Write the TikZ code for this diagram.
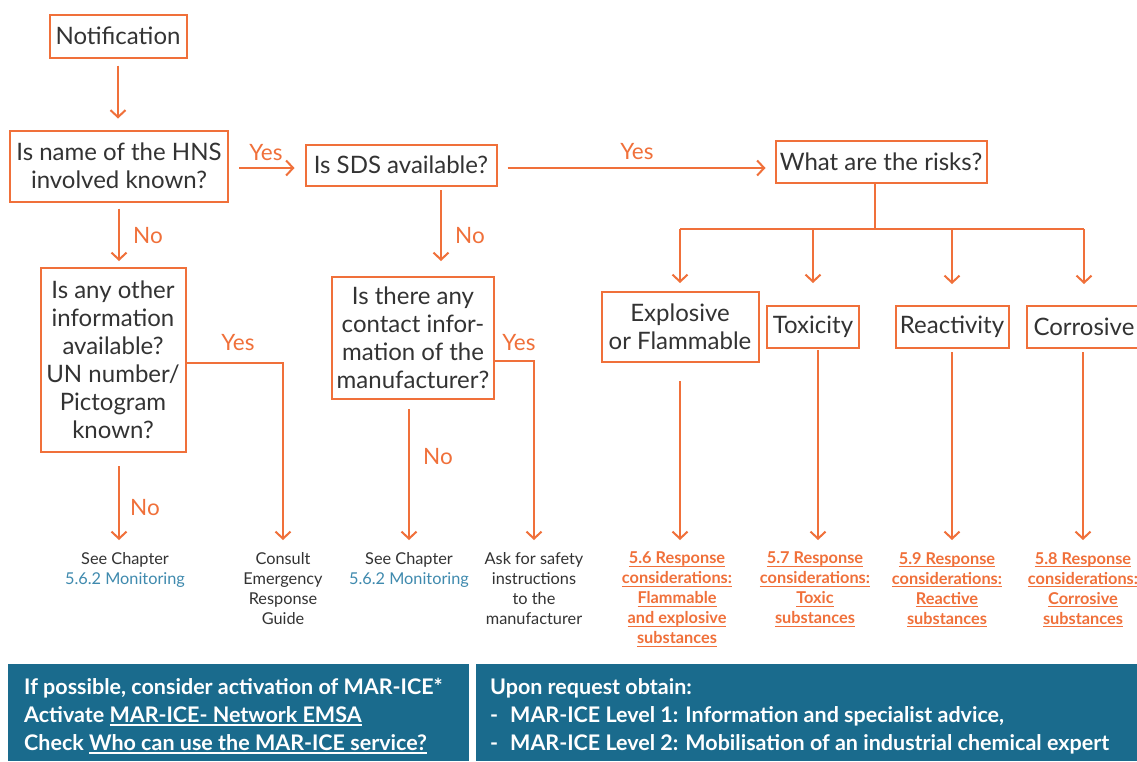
\documentclass[tikz,border=0pt]{standalone}
\usepackage{fontspec}
\setmainfont{Lato}
\usetikzlibrary{arrows.meta}
\definecolor{org}{HTML}{F0703A}
\definecolor{teal}{HTML}{1A6B8D}
\definecolor{lnk}{HTML}{3F8AAE}
\definecolor{txt}{HTML}{333333}
\newcommand\myul[1]{\leavevmode\setbox0\hbox{#1}\rlap{\rule[-3pt]{\wd0}{1.1pt}}\box0}
\begin{document}
\begin{tikzpicture}[x=1pt,y=-1pt,
  box/.style={draw=org,line width=2pt,inner sep=0pt,align=center,text=txt,
    font=\fontsize{24}{28}\selectfont},
  conn/.style={draw=org,line width=2pt,-{Straight Barb[length=7pt,width=15pt,line width=2pt]}},
  lbl/.style={text=org,font=\fontsize{22.5}{26}\selectfont,inner sep=0pt},
  small/.style={anchor=north,inner sep=0pt,align=center,text=txt,font=\fontsize{16.3}{20}\selectfont},
  refl/.style={anchor=north,inner sep=0pt,align=center,text=org,font=\bfseries\fontsize{16.3}{20}\selectfont},
  bar/.style={fill=teal,draw=none},
  bartext/.style={anchor=north west,inner sep=0pt,align=left,text=white,font=\bfseries\fontsize{21.5}{28}\selectfont}
]
\useasboundingbox (0,0) rectangle (1137,761);
\fill[white] (0,0) rectangle (1137,761);

% boxes
\node[box,minimum width=137,minimum height=43] (notif) at (118,36) {Notification};
\node[box,minimum width=218,minimum height=71] (hns) at (119,166) {Is name of the HNS\\involved known?};
\node[box,minimum width=191,minimum height=41] (sds) at (401,165) {Is SDS available?};
\node[box,minimum width=211,minimum height=42] (risks) at (881,162) {What are the risks?};
\node[box,minimum width=157,minimum height=70] (expl) at (680,327) {Explosive\\or Flammable};
\node[box,minimum width=92,minimum height=42] (tox) at (813,327) {Toxicity};
\node[box,minimum width=113,minimum height=42] (reac) at (952,327) {Reactivity};
\node[box,minimum width=114,minimum height=42] (corr) at (1084,327) {Corrosive};
\node[box,minimum width=145,minimum height=184] (other) at (113,360) {Is any other\\information\\available?\\UN number/\\Pictogram\\known?};
\node[box,minimum width=162,minimum height=122] (contact) at (413,338) {Is there any\\contact infor-\\mation of the\\manufacturer?};

% result texts
\node[small] (see1) at (125,552) {See Chapter\\{\color{lnk}5.6.2 Monitoring}};
\node[small] (consult) at (283,552) {Consult\\Emergency\\Response\\Guide};
\node[small] (see2) at (409,552) {See Chapter\\{\color{lnk}5.6.2 Monitoring}};
\node[small] (ask) at (534,552) {Ask for safety\\instructions\\to the\\manufacturer};
\node[refl] (ref1) at (677,552) {\myul{5.6 Response}\\\myul{considerations:}\\\myul{Flammable}\\\myul{and explosive}\\\myul{substances}};
\node[refl] (ref2) at (815,552) {\myul{5.7 Response}\\\myul{considerations:}\\\myul{Toxic}\\\myul{substances}};
\node[refl] (ref3) at (947,552) {\myul{5.9 Response}\\\myul{considerations:}\\\myul{Reactive}\\\myul{substances}};
\node[refl] (ref4) at (1083,552) {\myul{5.8 Response}\\\myul{considerations:}\\\myul{Corrosive}\\\myul{substances}};

% connectors
\draw[conn,shorten <=7pt,shorten >=11pt] (notif.south) -- (notif.south |- hns.north);
\draw[conn,shorten <=10pt,shorten >=10pt] (hns.east |- 0,168) -- (sds.west |- 0,168);
\node[lbl] at (266,153) {Yes};
\draw[conn,shorten <=10pt,shorten >=9pt] (sds.east |- 0,168) -- (risks.west |- 0,168);
\node[lbl] at (637,152) {Yes};

\coordinate (bus) at (875,229);
\draw[draw=org,line width=2pt] (risks.south -| bus) -- (bus);
\draw[draw=org,line width=2pt] (expl.north |- bus) -- (corr.north |- bus);
\draw[conn,shorten >=8pt] (expl.north |- bus) -- (expl.north);
\draw[conn,shorten >=22pt] (tox.north |- bus) -- (tox.north);
\draw[conn,shorten >=21pt] (reac.north |- bus) -- (reac.north);
\draw[conn,shorten >=21pt] (corr.north |- bus) -- (corr.north);

\draw[conn,shorten <=18pt,shorten >=12pt] (expl.south) -- (expl.south |- ref1.north);
\draw[conn,shorten <=1pt,shorten >=12pt] (tox.south -| 818,0) -- (818,552);
\draw[conn,shorten <=3pt,shorten >=12pt] (reac.south) -- (reac.south |- ref3.north);
\draw[conn,shorten <=3pt,shorten >=12pt] (corr.south -| ref4.north) -- (ref4.north);

% left branch
\draw[conn,shorten <=6pt,shorten >=6pt] (hns.south) -- (hns.south |- other.north);
\node[lbl] at (148,236) {No};
\draw[conn,shorten >=12pt] (other.east |- 0,363) -- (consult.north |- 0,363) -- (consult.north);
\node[lbl] at (238,343) {Yes};
\draw[conn,shorten <=13pt,shorten >=12pt] (other.south -| hns.south) -- (hns.south |- see1.north);
\node[lbl] at (145,508) {No};

% middle branch
\coordinate (sdsno) at (441,185);
\draw[conn,shorten <=5pt,shorten >=15pt] (sdsno) -- (sdsno |- contact.north);
\node[lbl] at (470,236) {No};
\draw[conn,shorten >=12pt] (contact.east |- 0,361) -- (ask.north |- 0,361) -- (ask.north);
\node[lbl] at (519,343) {Yes};
\draw[conn,shorten <=9pt,shorten >=12pt] (contact.south -| see2.north) -- (see2.north);
\node[lbl] at (438,457) {No};

% bottom bars
\path[bar] (8,664) rectangle (469,761);
\path[bar] (476,664) rectangle (1137,761);
\node[bartext] (b1) at (24,678) {If possible, consider activation of MAR-ICE*\\Activate \myul{MAR-ICE- Network EMSA}\\Check \myul{Who can use the MAR-ICE service?}};
\node[bartext] (b2) at (490,678) {Upon request obtain:\\-\hspace{12pt}MAR-ICE Level 1: Information and specialist advice,\\-\hspace{12pt}MAR-ICE Level 2: Mobilisation of an industrial chemical expert};
\end{tikzpicture}
\end{document}
